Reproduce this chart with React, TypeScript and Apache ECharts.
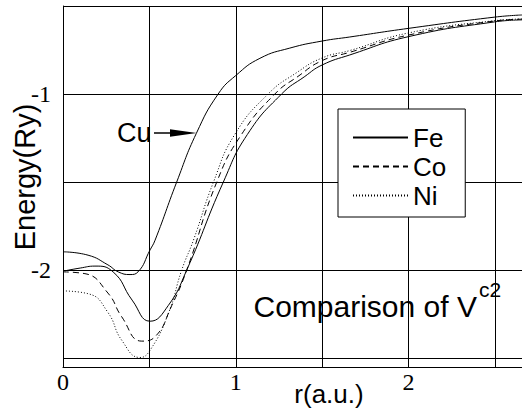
import React, { useEffect, useRef } from "react";
import * as echarts from "echarts";

const cuR = [0, 0.145, 0.26, 0.32, 0.388, 0.434, 0.504, 0.533, 0.658, 0.772, 0.898, 1.0, 1.14, 1.313, 1.5, 1.66, 2.0, 2.5, 2.657];
const cuE = [-1.896, -1.915, -1.97, -2.01, -2.025, -2.01, -1.885, -1.83, -1.5, -1.223, -1.0, -0.895, -0.797, -0.739, -0.699, -0.676, -0.627, -0.563, -0.551];

const feR = [0, 0.1, 0.185, 0.29, 0.4, 0.504, 0.61, 0.716, 0.928, 1.067, 1.265, 1.4, 1.5, 1.66, 2.0, 2.5, 2.657];
const feE = [-2.006, -1.988, -1.977, -2.01, -2.17, -2.29, -2.2, -2.0, -1.5, -1.23, -1.0, -0.9, -0.835, -0.778, -0.674, -0.59, -0.579];

const coR = [0, 0.127, 0.26, 0.34, 0.456, 0.533, 0.63, 0.716, 0.89, 1.033, 1.226, 1.36, 1.5, 1.66, 2.0, 2.5, 2.657];
const coE = [-2.01, -2.02, -2.13, -2.265, -2.403, -2.378, -2.2, -2.0, -1.5, -1.23, -1.0, -0.9, -0.81, -0.763, -0.665, -0.585, -0.575];

const niR = [0, 0.15, 0.26, 0.34, 0.446, 0.504, 0.61, 0.687, 0.755, 0.871, 0.994, 1.187, 1.35, 1.5, 1.66, 2.0, 2.5, 2.657];
const niE = [-2.118, -2.135, -2.24, -2.398, -2.496, -2.455, -2.246, -2.0, -1.83, -1.5, -1.23, -1.0, -0.88, -0.795, -0.753, -0.653, -0.583, -0.574];

const xTickLabels = [0, 1, 2];
const yTickLabels = [-1, -2];
const legendNames = ["Fe", "Co", "Ni"];

const SANS = "Liberation Sans";
const SERIF = "Liberation Serif";

function pairs(r: number[], e: number[]) {
  return r.map((v, i) => [v, e[i]]);
}

const tickRich = { t: { fontFamily: SERIF, fontSize: 24, color: "#000", lineHeight: 24 } };

export default function App() {
  const ref = useRef<HTMLDivElement>(null);
  useEffect(() => {
    document.body.style.margin = "0";
    const chart = echarts.init(ref.current!, null, { renderer: "svg" });
    const lineBase = { type: "line", symbol: "none", smooth: true, silent: true };
    chart.setOption({
      animation: false,
      backgroundColor: "#fff",
      textStyle: { fontFamily: SANS },
      grid: { left: 63, top: 6, right: 0, bottom: 44 },
      xAxis: {
        type: "value",
        min: 0,
        max: 2.657,
        interval: 0.5,
        axisLine: { show: true, onZero: false, lineStyle: { color: "#000", width: 1 } },
        axisTick: { show: false },
        splitLine: { show: true, lineStyle: { color: "#000", width: 1 } },
        axisLabel: {
          margin: 3,
          color: "#000",
          fontFamily: SERIF,
          fontSize: 24,
          showMaxLabel: false,
          rich: tickRich,
          formatter: (v: number) =>
            xTickLabels.some((t) => Math.abs(t - v) < 1e-6) ? "{t|" + String(Math.round(v)) + "}" : "",
        },
      },
      yAxis: {
        type: "value",
        min: -2.55,
        max: -0.5,
        splitNumber: 4,
        axisLine: { show: true, lineStyle: { color: "#000", width: 1 } },
        axisTick: { show: false },
        splitLine: { show: true, lineStyle: { color: "#000", width: 1 } },
        axisLabel: {
          margin: 12,
          color: "#000",
          fontFamily: SERIF,
          fontSize: 24,
          rich: tickRich,
          formatter: (v: number) =>
            yTickLabels.some((t) => Math.abs(t - v) < 1e-6) ? "{t|" + String(Math.round(v)) + "}" : "",
        },
      },
      legend: {
        data: legendNames,
        orient: "vertical",
        left: 338,
        top: 109,
        padding: [14, 19, 7, 14],
        itemGap: 0,
        itemWidth: 55,
        itemHeight: 14,
        backgroundColor: "#fff",
        borderColor: "#000",
        borderWidth: 1,
        borderRadius: 0,
        itemStyle: { opacity: 0 },
        textStyle: { fontFamily: SANS, fontSize: 26, color: "#000", lineHeight: 29 },
      },
      series: [
        { ...lineBase, name: "Cu", data: pairs(cuR, cuE), lineStyle: { color: "#000", width: 1 } },
        { ...lineBase, name: "Fe", data: pairs(feR, feE), itemStyle: { color: "#000" }, lineStyle: { color: "#000", width: 1 } },
        { ...lineBase, name: "Co", data: pairs(coR, coE), itemStyle: { color: "#000" }, lineStyle: { color: "#000", width: 1, type: [6, 4] } },
        { ...lineBase, name: "Ni", data: pairs(niR, niE), itemStyle: { color: "#000" }, lineStyle: { color: "#000", width: 1, type: [1, 2] } },
      ],
      graphic: [
        {
          type: "text",
          x: 25,
          y: 177,
          rotation: Math.PI / 2,
          style: { text: "Energy(Ry)", fontFamily: SANS, fontSize: 29, fill: "#000", align: "center", verticalAlign: "middle" },
        },
        {
          type: "text",
          x: 329,
          y: 394,
          style: { text: "r(a.u.)", fontFamily: SANS, fontSize: 26, fill: "#000", align: "center", verticalAlign: "middle" },
        },
        {
          type: "text",
          x: 117,
          y: 133,
          style: { text: "Cu", fontFamily: SANS, fontSize: 27, fill: "#000", align: "left", verticalAlign: "middle" },
        },
        { type: "line", shape: { x1: 154, y1: 133, x2: 172, y2: 133 }, style: { stroke: "#000", lineWidth: 1.5 } },
        { type: "polygon", shape: { points: [[170, 129.3], [196.7, 133], [170, 136.7]] }, style: { fill: "#000" } },
        {
          type: "text",
          x: 253.5,
          y: 306,
          style: { text: "Comparison of V", fontFamily: SANS, fontSize: 30, fill: "#000", align: "left", verticalAlign: "middle" },
        },
        {
          type: "text",
          x: 479,
          y: 289,
          style: { text: "c2", fontFamily: SANS, fontSize: 21, fill: "#000", align: "left", verticalAlign: "middle" },
        },
      ],
    });
    return () => chart.dispose();
  }, []);
  return <div ref={ref} style={{ width: 522, height: 411, position: "fixed", left: 0, top: 0 }} />;
}
